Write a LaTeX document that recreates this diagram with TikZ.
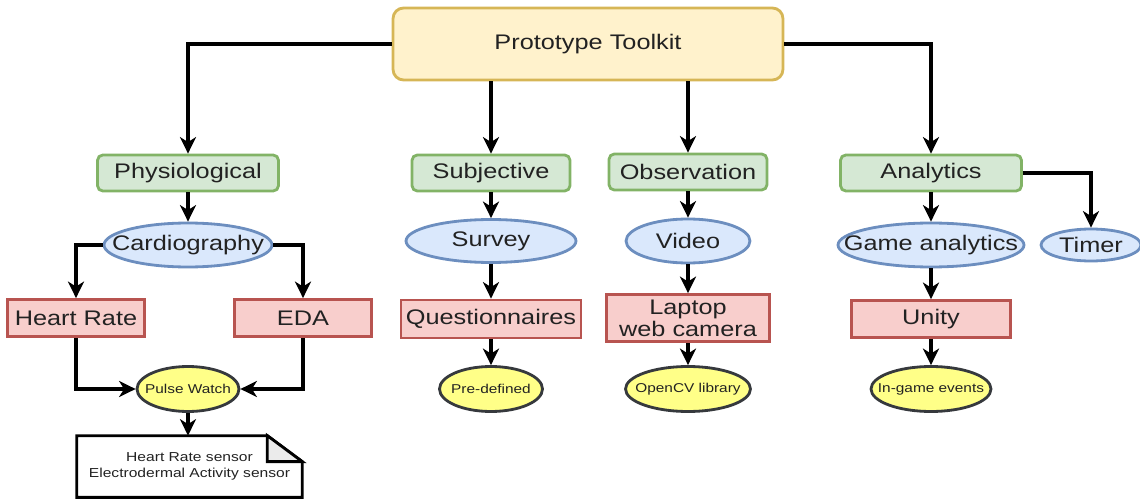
\documentclass[tikz,border=0pt]{standalone}
\usepackage{fontspec}
\setmainfont{Liberation Sans}[FakeStretch=1.2]
\usepackage{xcolor}
\usepackage{tikz}
\usetikzlibrary{
  shapes.geometric,
  arrows.meta,
  calc
}
\definecolor{topFill}{HTML}{FFF2CC}
\definecolor{topStroke}{HTML}{D6B656}
\definecolor{greenFill}{HTML}{D5E8D4}
\definecolor{greenStroke}{HTML}{82B366}
\definecolor{blueFill}{HTML}{DAE8FC}
\definecolor{blueStroke}{HTML}{6C8EBF}
\definecolor{redFill}{HTML}{F8CECC}
\definecolor{redStroke}{HTML}{B85450}
\definecolor{yellowFill}{HTML}{FFFF88}
\definecolor{yellowStroke}{HTML}{36393D}
\definecolor{foldFill}{HTML}{EBEBEB}
\definecolor{txt}{HTML}{222222}
\newcommand{\nw}[1]{\makebox[0pt]{#1}}
\tikzset{
  base/.style={
    align=center, inner sep=1pt,
    draw, line width=1.6pt,
    text=txt, font=\fontsize{12}{13}\selectfont
  },
  top node/.style={base, rectangle, rounded corners=6pt,
    fill=topFill, draw=topStroke},
  cat node/.style={base, rectangle, rounded corners=3pt,
    fill=greenFill, draw=greenStroke, minimum height=0.72cm},
  method node/.style={base, ellipse, inner sep=0pt,
    fill=blueFill, draw=blueStroke, minimum height=0.88cm},
  tool node/.style={base, rectangle,
    fill=redFill, draw=redStroke, minimum height=0.74cm},
  detail node/.style={base, ellipse, inner sep=0pt,
    fill=yellowFill, draw=yellowStroke, minimum height=0.9cm,
    font=\fontsize{7.3}{8}\selectfont},
  note node/.style={rectangle, align=center, text=txt,
    minimum width=4.5cm, minimum height=1.22cm,
    font=\fontsize{7.4}{8.8}\selectfont},
  link/.style={-{Stealth[length=3.3mm, width=3.2mm, inset=1mm]},
    line width=1.8pt, black},
}

\begin{document}
\begin{tikzpicture}[x=0.02cm, y=-0.02cm]
    \useasboundingbox (0,0) rectangle (1140,500);

    % Nodes
    \node[top node, minimum width=7.8cm, minimum height=1.44cm] (toolkit) at (588,44) {Prototype Toolkit};

    \node[cat node, minimum width=3.62cm] (phys) at (188,173) {Physiological};
    \node[cat node, minimum width=3.16cm] (subj) at (491,173) {Subjective};
    \node[cat node, minimum width=3.16cm] (obs) at (688,172) {Observation};
    \node[cat node, minimum width=3.62cm] (anal) at (931,173) {Analytics};

    \node[method node, minimum width=3.36cm] (cardio) at (188,245) {\nw{Cardiography}};
    \node[method node, minimum width=3.4cm, minimum height=0.86cm] (survey) at (491,241) {\nw{Survey}};
    \node[method node, minimum width=2.48cm] (video) at (688,241) {\nw{Video}};
    \node[method node, minimum width=3.72cm] (game) at (931,245) {\nw{Game analytics}};
    \node[method node, minimum width=2.0cm, minimum height=0.64cm] (timer) at (1091,245) {\nw{Timer}};

    \node[tool node, minimum width=2.74cm] (hr) at (76,318) {Heart Rate};
    \node[tool node, minimum width=2.74cm] (eda) at (303,318) {EDA};
    \node[tool node, minimum width=3.6cm, minimum height=0.76cm] (quest) at (491,319) {Questionnaires};
    \node[tool node, minimum width=3.26cm, minimum height=0.94cm,
      font=\fontsize{12}{12.5}\selectfont] (laptop) at (688,318) {Laptop\\web camera};
    \node[tool node, minimum width=3.18cm] (unity) at (931,319) {Unity};

    \node[detail node, minimum width=2.04cm] (pulse) at (188,389) {\nw{Pulse Watch}};
    \node[detail node, minimum width=2.06cm] (predef) at (491,389) {\nw{Pre-defined}};
    \node[detail node, minimum width=2.5cm] (opencv) at (688,389) {\nw{OpenCV library}};
    \node[detail node, minimum width=2.4cm] (events) at (931,389) {\nw{In-game events}};

    \node[note node] (sensors) at (189.5,466.5) {Heart Rate sensor\\Electrodermal Activity sensor};
    \draw[line width=1.6pt, black] (sensors.north west) -- ([xshift=-0.7cm]sensors.north east)
      -- ([yshift=-0.52cm]sensors.north east) -- (sensors.south east)
      -- (sensors.south west) -- cycle;
    \filldraw[fill=foldFill, draw=black, line width=1.6pt] ([xshift=-0.7cm]sensors.north east)
      -- ([xshift=-0.7cm, yshift=-0.52cm]sensors.north east)
      -- ([yshift=-0.52cm]sensors.north east) -- cycle;

    % Arrows
    \draw[link] (toolkit.west) -| (phys);
    \draw[link] (toolkit.east) -| (anal);
    \draw[link] (toolkit.south -| subj) -- (subj);
    \draw[link] (toolkit.south -| obs) -- (obs);

    \draw[link] (phys) -- (cardio);
    \draw[link] (cardio.west) -| (hr);
    \draw[link] (cardio.east) -| (eda);
    \draw[link] (hr) |- (pulse);
    \draw[link] (eda) |- (pulse);
    \draw[link] (pulse) -- (pulse |- sensors.north);

    \draw[link] (subj) -- (survey);
    \draw[link] (survey) -- (quest);
    \draw[link] (quest) -- (predef);

    \draw[link] (obs) -- (video);
    \draw[link] (video) -- (laptop);
    \draw[link] (laptop) -- (opencv);

    \draw[link] (anal) -- (game);
    \draw[link] (anal.east) -| (timer);
    \draw[link] (game) -- (unity);
    \draw[link] (unity) -- (events);
  \end{tikzpicture}
\end{document}
